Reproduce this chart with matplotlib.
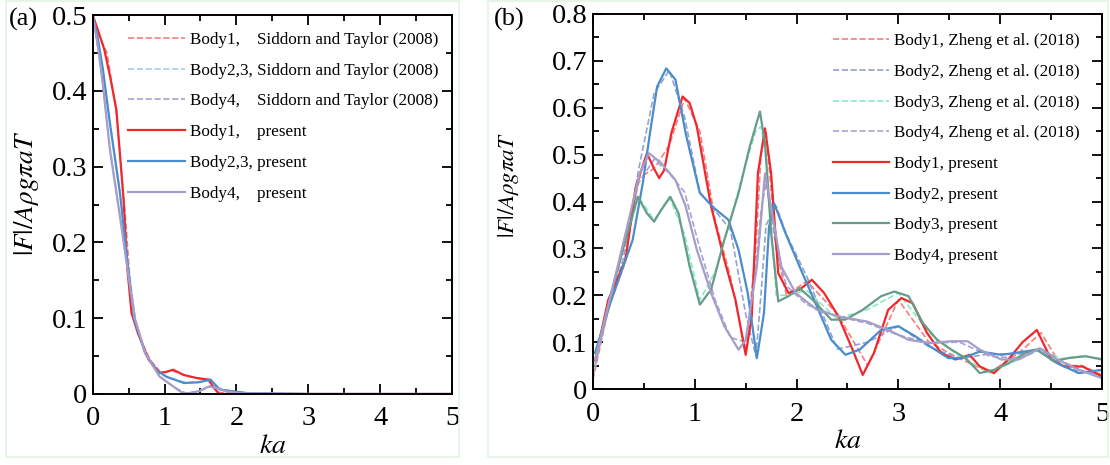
import matplotlib
matplotlib.use("Agg")
import matplotlib.pyplot as plt
from matplotlib.patches import Rectangle
from matplotlib.ticker import MultipleLocator

plt.rcParams['font.family'] = 'Liberation Serif'
plt.rcParams['mathtext.fontset'] = 'stix'

# ========== panel (a) data ==========
a_ka1 = [0, 0.08, 0.16, 0.24, 0.33, 0.43, 0.48, 0.54, 0.63, 0.78, 0.93, 1.02, 1.12, 1.27, 1.45, 1.62, 1.67, 1.76, 2.0, 3.0, 5.0]
a_f1 = [0.5, 0.478, 0.455, 0.42, 0.375, 0.256, 0.168, 0.107, 0.08, 0.045, 0.028, 0.029, 0.032, 0.025, 0.021, 0.019, 0.01, 0.0, 0.0, 0.0, 0.0]
a_ka23 = [0, 0.07, 0.14, 0.24, 0.38, 0.48, 0.58, 0.73, 0.88, 1.02, 1.27, 1.47, 1.64, 1.76, 2.16, 3.0, 5.0]
a_f23 = [0.5, 0.47, 0.43, 0.357, 0.265, 0.177, 0.098, 0.054, 0.032, 0.023, 0.0145, 0.0154, 0.019, 0.006, 0.001, 0.0, 0.0]
a_ka4 = [0, 0.07, 0.14, 0.24, 0.38, 0.46, 0.58, 0.73, 0.93, 1.12, 1.27, 1.47, 1.62, 1.71, 1.86, 2.06, 3.0, 5.0]
a_f4 = [0.5, 0.46, 0.41, 0.322, 0.234, 0.181, 0.102, 0.054, 0.023, 0.01, 0.0, 0.0035, 0.01, 0.008, 0.0035, 0.001, 0.0, 0.0]
# Siddorn and Taylor (2008)
a_ref_ka1 = [0, 0.1, 0.2, 0.33, 0.45, 0.55, 0.65, 0.8, 0.95, 1.1, 1.3, 1.6, 1.75, 2.0, 3.5]
a_ref_f1 = [0.5, 0.47, 0.45, 0.37, 0.24, 0.11, 0.075, 0.045, 0.028, 0.031, 0.024, 0.018, 0.002, 0.001, 0.0]
a_ref_ka23 = [0, 0.1, 0.24, 0.38, 0.5, 0.6, 0.75, 0.9, 1.05, 1.3, 1.5, 1.65, 1.8, 2.2]
a_ref_f23 = [0.5, 0.45, 0.36, 0.265, 0.165, 0.092, 0.05, 0.031, 0.022, 0.015, 0.016, 0.018, 0.005, 0.001]
a_ref_ka4 = [0, 0.1, 0.24, 0.38, 0.5, 0.6, 0.75, 0.95, 1.15, 1.3, 1.5, 1.65, 1.9, 2.1]
a_ref_f4 = [0.5, 0.44, 0.325, 0.235, 0.16, 0.095, 0.05, 0.022, 0.008, 0.001, 0.004, 0.011, 0.004, 0.001]

# ========== panel (b) data ==========
b_ka1 = [0.02, 0.15, 0.32, 0.42, 0.53, 0.6, 0.65, 0.7, 0.77, 0.88, 0.95, 1.02, 1.16, 1.29, 1.4, 1.46, 1.5, 1.56, 1.62, 1.69, 1.75, 1.82, 1.92, 2.03, 2.15, 2.27, 2.41, 2.55, 2.65, 2.76, 2.9, 3.03, 3.14, 3.28, 3.42, 3.56, 3.7, 3.8, 3.94, 4.08, 4.22, 4.36, 4.5, 4.63, 4.81, 5.0]
b_f1 = [0.06, 0.19, 0.276, 0.43, 0.503, 0.47, 0.45, 0.467, 0.546, 0.624, 0.61, 0.56, 0.39, 0.276, 0.19, 0.12, 0.073, 0.155, 0.46, 0.556, 0.46, 0.247, 0.205, 0.212, 0.233, 0.205, 0.155, 0.084, 0.03, 0.077, 0.169, 0.194, 0.183, 0.12, 0.077, 0.063, 0.073, 0.048, 0.034, 0.063, 0.1, 0.126, 0.063, 0.048, 0.048, 0.027]
b_ka2 = [0.02, 0.18, 0.39, 0.49, 0.56, 0.63, 0.72, 0.81, 0.91, 1.05, 1.19, 1.33, 1.43, 1.52, 1.61, 1.68, 1.73, 1.78, 1.89, 2.03, 2.2, 2.34, 2.48, 2.62, 2.83, 3.0, 3.17, 3.31, 3.49, 3.63, 3.8, 4.01, 4.15, 4.36, 4.56, 4.77, 5.0]
b_f2 = [0.077, 0.19, 0.318, 0.44, 0.546, 0.645, 0.684, 0.66, 0.546, 0.418, 0.386, 0.361, 0.297, 0.205, 0.066, 0.162, 0.347, 0.396, 0.333, 0.261, 0.176, 0.105, 0.073, 0.084, 0.126, 0.134, 0.112, 0.091, 0.066, 0.066, 0.08, 0.073, 0.077, 0.084, 0.055, 0.034, 0.041]
b_ka3 = [0.02, 0.18, 0.32, 0.44, 0.53, 0.6, 0.67, 0.76, 0.84, 0.95, 1.05, 1.16, 1.29, 1.43, 1.54, 1.64, 1.69, 1.75, 1.82, 1.92, 2.03, 2.16, 2.34, 2.48, 2.65, 2.83, 2.96, 3.1, 3.24, 3.38, 3.52, 3.66, 3.8, 3.94, 4.08, 4.25, 4.36, 4.53, 4.67, 4.84, 5.0]
b_f3 = [0.06, 0.205, 0.318, 0.41, 0.375, 0.357, 0.382, 0.41, 0.375, 0.261, 0.18, 0.212, 0.318, 0.418, 0.517, 0.592, 0.524, 0.333, 0.187, 0.198, 0.215, 0.19, 0.148, 0.148, 0.169, 0.198, 0.208, 0.198, 0.141, 0.105, 0.084, 0.066, 0.034, 0.041, 0.055, 0.077, 0.084, 0.059, 0.066, 0.07, 0.063]
b_ka4 = [0.02, 0.18, 0.32, 0.46, 0.55, 0.67, 0.81, 0.91, 1.02, 1.16, 1.29, 1.43, 1.5, 1.61, 1.69, 1.76, 1.85, 1.99, 2.2, 2.41, 2.69, 2.9, 3.1, 3.31, 3.52, 3.68, 3.8, 4.01, 4.18, 4.39, 4.56, 4.77, 5.0]
b_f4 = [0.06, 0.205, 0.332, 0.46, 0.503, 0.482, 0.446, 0.39, 0.297, 0.205, 0.134, 0.084, 0.105, 0.261, 0.46, 0.375, 0.261, 0.205, 0.169, 0.155, 0.144, 0.126, 0.105, 0.098, 0.102, 0.102, 0.084, 0.063, 0.063, 0.087, 0.063, 0.041, 0.023]
# Zheng et al. (2018)
b_ref_ka = [0.0, 0.15, 0.3, 0.45, 0.6, 0.75, 0.9, 1.05, 1.2, 1.35, 1.5, 1.6, 1.65, 1.7, 1.8, 1.9, 2.1, 2.4, 2.7, 3.0, 3.3, 3.6, 3.9, 4.2, 4.4, 4.6, 4.8, 5.0]
b_ref_f1 = [0.02, 0.17, 0.26, 0.45, 0.47, 0.52, 0.62, 0.55, 0.36, 0.24, 0.08, 0.3, 0.5, 0.55, 0.3, 0.2, 0.23, 0.16, 0.05, 0.19, 0.1, 0.065, 0.035, 0.08, 0.12, 0.05, 0.05, 0.03]
b_ref_f2 = [0.03, 0.17, 0.28, 0.47, 0.63, 0.68, 0.58, 0.42, 0.38, 0.34, 0.16, 0.07, 0.2, 0.35, 0.39, 0.33, 0.24, 0.085, 0.1, 0.134, 0.09, 0.065, 0.075, 0.075, 0.085, 0.05, 0.035, 0.04]
b_ref_f3 = [0.03, 0.18, 0.3, 0.41, 0.36, 0.41, 0.33, 0.19, 0.25, 0.36, 0.48, 0.55, 0.56, 0.5, 0.2, 0.2, 0.21, 0.15, 0.17, 0.205, 0.12, 0.07, 0.035, 0.065, 0.084, 0.065, 0.07, 0.065]
b_ref_f4 = [0.03, 0.18, 0.3, 0.44, 0.49, 0.46, 0.42, 0.3, 0.19, 0.11, 0.1, 0.26, 0.38, 0.44, 0.3, 0.22, 0.18, 0.155, 0.14, 0.115, 0.098, 0.1, 0.07, 0.065, 0.087, 0.06, 0.04, 0.025]

RED, BLUE, GREEN, PURPLE = '#f0282d', '#4b8ccd', '#669c88', '#a59dca'

fig = plt.figure(figsize=(11.1, 4.65), dpi=100)

# light green panel frames
for x0, w in [(0.0054, 0.408), (0.4396, 0.5586)]:
    fig.patches.append(Rectangle((x0, 0.017), w, 0.98, transform=fig.transFigure,
                                 fill=False, edgecolor='#e2f4e2', linewidth=1.2))


def style_axes(ax, ymax, ylab_size, ylab_x, ylab_y):
    ax.set_xlim(0, 5)
    ax.set_ylim(0, ymax)
    ax.xaxis.set_major_locator(MultipleLocator(1))
    ax.xaxis.set_minor_locator(MultipleLocator(0.5))
    ax.yaxis.set_major_locator(MultipleLocator(0.1))
    ax.yaxis.set_minor_locator(MultipleLocator(0.05))
    ax.tick_params(which='both', direction='in', top=True, right=True, width=1.3, labelsize=20.5)
    ax.tick_params(which='major', length=7)
    ax.tick_params(which='minor', length=4)
    ax.tick_params(axis='x', which='major', pad=9)
    ax.tick_params(axis='y', which='major', pad=4)
    for s in ax.spines.values():
        s.set_linewidth(1.4)
    ax.yaxis.set_major_formatter(plt.FuncFormatter(lambda v, p: '0' if abs(v) < 1e-9 else f'{v:.1f}'))
    ax.set_xlabel(r'$ka$', fontsize=20, labelpad=2)
    ax.set_ylabel(r'$|F|/A\rho g\pi aT$', fontsize=ylab_size)
    ax.yaxis.set_label_coords(ylab_x, ylab_y)


leg_kw = dict(loc='upper left', frameon=False, fontsize=12.3, borderpad=0, borderaxespad=0,
              handlelength=3.3, handletextpad=0.3, labelspacing=0.86)

# ========== (a) ==========
ax1 = fig.add_axes([0.0835, 0.1527, 0.3237, 0.815])
ax1.plot(a_ref_ka1, a_ref_f1, '--', color='#f47f7f', lw=1.2, label='Body1,    Siddorn and Taylor (2008)')
ax1.plot(a_ref_ka23, a_ref_f23, '--', color='#a9c9ec', lw=1.2, label='Body2,3, Siddorn and Taylor (2008)')
ax1.plot(a_ref_ka4, a_ref_f4, '--', color='#a3a3d0', lw=1.2, label='Body4,    Siddorn and Taylor (2008)')
ax1.plot(a_ka1, a_f1, color=RED, lw=1.6, label='Body1,    present')
ax1.plot(a_ka23, a_f23, color=BLUE, lw=1.6, label='Body2,3, present')
ax1.plot(a_ka4, a_f4, color=PURPLE, lw=1.6, label='Body4,    present')
style_axes(ax1, 0.5, 19.5, -0.144, 0.53)
ax1.legend(bbox_to_anchor=(0.0996, 0.955), **leg_kw)

# ========== (b) ==========
ax2 = fig.add_axes([0.5342, 0.1634, 0.4586, 0.8065])
ax2.plot(b_ref_ka, b_ref_f1, '--', color='#f47f7f', lw=1.2, label='Body1, Zheng et al. (2018)')
ax2.plot(b_ref_ka, b_ref_f2, '--', color='#93a3d0', lw=1.2, label='Body2, Zheng et al. (2018)')
ax2.plot(b_ref_ka, b_ref_f3, '--', color='#86ecc6', lw=1.2, label='Body3, Zheng et al. (2018)')
ax2.plot(b_ref_ka, b_ref_f4, '--', color='#a6a3cf', lw=1.2, label='Body4, Zheng et al. (2018)')
ax2.plot(b_ka1, b_f1, color=RED, lw=1.6, label='Body1, present')
ax2.plot(b_ka2, b_f2, color=BLUE, lw=1.6, label='Body2, present')
ax2.plot(b_ka3, b_f3, color=GREEN, lw=1.6, label='Body3, present')
ax2.plot(b_ka4, b_f4, color=PURPLE, lw=1.6, label='Body4, present')
style_axes(ax2, 0.8, 16.5, -0.141, 0.545)
ax2.legend(bbox_to_anchor=(0.4715, 0.949), **leg_kw)

fig.text(0.008, 0.983, '(a)', fontsize=19, va='top')
fig.text(0.445, 0.983, '(b)', fontsize=19, va='top')

fig.savefig('out.png', dpi=100)
